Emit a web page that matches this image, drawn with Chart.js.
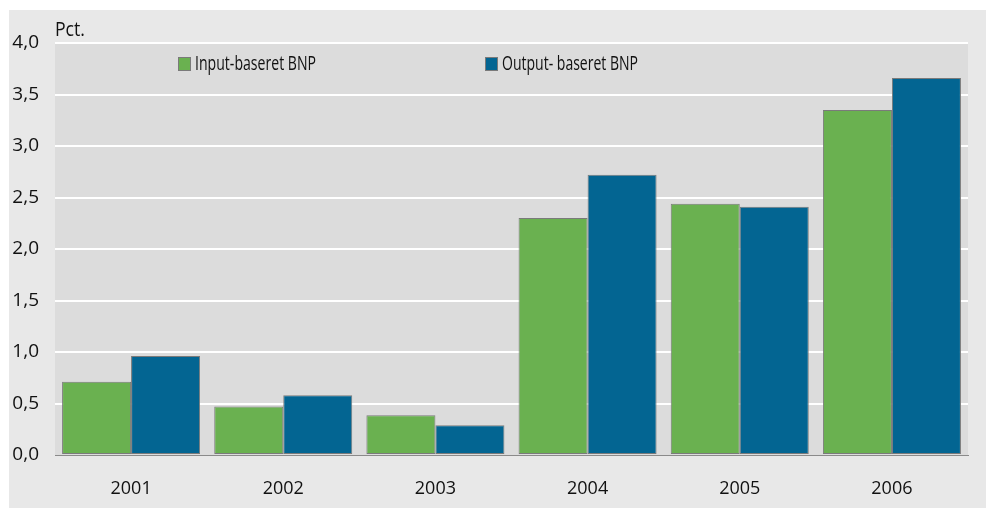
<!DOCTYPE html>
<html>
<head>
<meta charset="utf-8">
<script src="https://cdn.jsdelivr.net/npm/chart.js@4/dist/chart.umd.min.js"></script>
<style>
  body { margin: 0; background: #fff; width: 986px; height: 508px; overflow: hidden; }
  #box { position: absolute; left: 9px; top: 10px; width: 977px; height: 498px; background: #e8e8e8; }
</style>
</head>
<body>
<div id="box"><canvas id="myChart" width="977" height="498"></canvas></div>
<script>
const years = ['2001', '2002', '2003', '2004', '2005', '2006'];
const inputBNP = [0.71, 0.47, 0.385, 2.30, 2.44, 3.35];
const outputBNP = [0.96, 0.58, 0.29, 2.72, 2.41, 3.66];
const seriesNames = ['Input-baseret BNP', 'Output- baseret BNP'];
const seriesColors = ['#6ab150', '#036592'];

const FONT = '"Open Sans", sans-serif';

// text squeezed sideways to mimic the condensed face of the original
function narrowText(ctx, text, x, y, width) {
  const w = ctx.measureText(text).width;
  ctx.save();
  ctx.translate(x, y);
  ctx.scale(width / w, 1);
  ctx.fillText(text, 0, 0);
  ctx.restore();
}

// grey plot background, unit label and in-plot legend
const decor = {
  id: 'decor',
  beforeDraw(chart) {
    const { ctx, chartArea: a } = chart;
    ctx.save();
    ctx.fillStyle = '#dcdcdc';
    ctx.fillRect(a.left, a.top, a.right - a.left, a.bottom - a.top);
    ctx.fillStyle = '#111';
    ctx.font = '20px ' + FONT;
    ctx.textBaseline = 'alphabetic';
    narrowText(ctx, 'Pct.', 46, 26, 30);
    ctx.restore();
  },
  afterDraw(chart) {
    const { ctx } = chart;
    const spots = [169, 476];
    const widths = [121, 136];
    ctx.save();
    ctx.font = '20px ' + FONT;
    ctx.textBaseline = 'middle';
    seriesNames.forEach((name, i) => {
      const x = spots[i];
      ctx.fillStyle = seriesColors[i];
      ctx.fillRect(x, 47, 13, 14);
      ctx.strokeStyle = '#7a7a7a';
      ctx.lineWidth = 1;
      ctx.strokeRect(x + 0.5, 47.5, 12, 13);
      ctx.fillStyle = '#111';
      narrowText(ctx, name, x + 17, 54, widths[i]);
    });
    ctx.restore();
  }
};

const data = {
  labels: years,
  datasets: [
    {
      label: seriesNames[0],
      data: inputBNP,
      backgroundColor: seriesColors[0],
      borderColor: '#7a7a7a',
      borderWidth: 1,
      borderSkipped: false,
      categoryPercentage: 0.907,
      barPercentage: 1.0,
    },
    {
      label: seriesNames[1],
      data: outputBNP,
      backgroundColor: seriesColors[1],
      borderColor: '#7a7a7a',
      borderWidth: 1,
      borderSkipped: false,
      categoryPercentage: 0.907,
      barPercentage: 1.0,
    },
  ],
};

new Chart(document.getElementById('myChart'), {
  type: 'bar',
  data: data,
  plugins: [decor],
  options: {
    responsive: false,
    animation: false,
    layout: { padding: { top: 33, right: 18, left: 0, bottom: 0 } },
    plugins: { legend: { display: false }, tooltip: { enabled: false } },
    scales: {
      x: {
        afterFit: (s) => { s.height = 53; },
        grid: { display: false, drawTicks: false },
        border: { display: true, color: '#8a8a8a', width: 1 },
        ticks: { color: '#111', font: { family: FONT, size: 18 }, padding: 23 },
      },
      y: {
        min: 0,
        max: 4,
        afterFit: (s) => { s.width = 46; },
        grid: {
          drawTicks: false,
          lineWidth: 2,
          color: (c) => (c.tick && c.tick.value === 0 ? 'rgba(0,0,0,0)' : '#ffffff'),
        },
        border: { display: false },
        ticks: {
          stepSize: 0.5,
          padding: 16,
          color: '#111',
          font: { family: FONT, size: 19 },
          callback: (v) => v.toFixed(1).replace('.', ','),
        },
      },
    },
  },
});
</script>
</body>
</html>
